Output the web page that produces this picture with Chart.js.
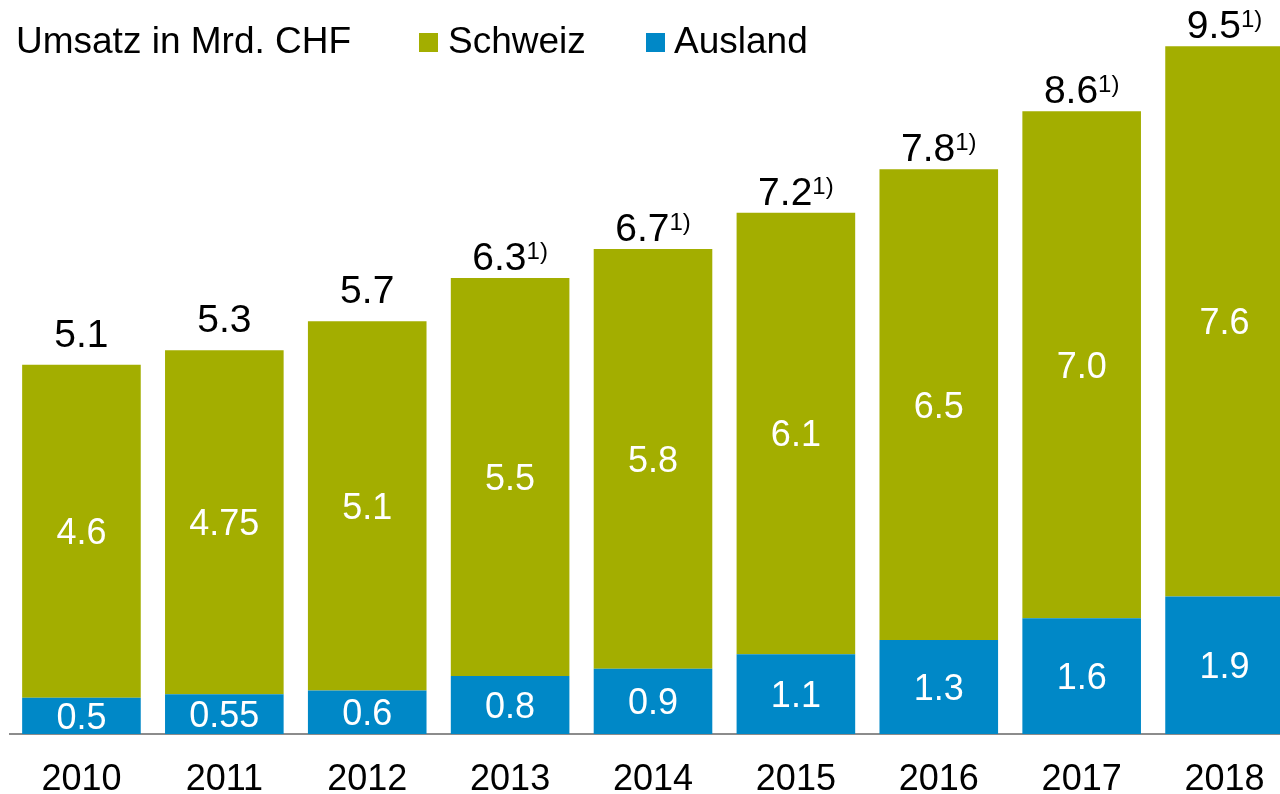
<!DOCTYPE html>
<html>
<head>
<meta charset="utf-8">
<script src="https://cdn.jsdelivr.net/npm/chart.js@4"></script>
<style>
  html, body { margin: 0; padding: 0; background: #fff; overflow: hidden; }
  #wrap { width: 1296px; height: 826px; }
</style>
</head>
<body>
<div id="wrap"><canvas id="umsatz" width="1296" height="826"></canvas></div>
<script>
const years = ['2010', '2011', '2012', '2013', '2014', '2015', '2016', '2017', '2018'];
const ausland = [0.5, 0.55, 0.6, 0.8, 0.9, 1.1, 1.3, 1.6, 1.9];
const schweiz = [4.6, 4.75, 5.1, 5.5, 5.8, 6.1, 6.5, 7.0, 7.6];
const footnotes = ['', '', '', '1)', '1)', '1)', '1)', '1)', '1)'];

const GREEN = '#a3ae00';
const BLUE = '#0088c7';
const FONT = "'Liberation Sans', Arial, sans-serif";

function fmt(v) {
    let s = String(v);
    if (s.indexOf('.') < 0) s += '.0';
    return s;
}

// value labels inside the segments, totals on top, legend line
const labelPlugin = {
    id: 'labels',
    afterDatasetsDraw(chart) {
        const ctx = chart.ctx;
        ctx.save();
        ctx.textAlign = 'center';
        ctx.textBaseline = 'middle';
        ctx.fillStyle = '#fff';
        ctx.font = '36px ' + FONT;
        chart.data.datasets.forEach((ds, di) => {
            chart.getDatasetMeta(di).data.forEach((bar, i) => {
                ctx.fillText(fmt(ds.data[i]), bar.x, (bar.y + bar.base) / 2 + 3);
            });
        });

        // totals
        const top = chart.getDatasetMeta(1).data;
        ctx.fillStyle = '#000';
        ctx.textBaseline = 'alphabetic';
        ctx.textAlign = 'left';
        top.forEach((bar, i) => {
            const total = (ausland[i] + schweiz[i]).toFixed(1);
            const note = footnotes[i];
            ctx.font = '39px ' + FONT;
            const w1 = ctx.measureText(total).width;
            ctx.font = '24px ' + FONT;
            const w2 = note ? ctx.measureText(note).width : 0;
            const x0 = bar.x - (w1 + w2) / 2;
            const yb = bar.y - (note ? 8 : 18);
            ctx.font = '39px ' + FONT;
            ctx.fillText(total, x0, yb);
            if (note) {
                ctx.font = '24px ' + FONT;
                ctx.fillText(note, x0 + w1, yb - 11);
            }
        });

        // title + legend
        ctx.font = '37px ' + FONT;
        ctx.fillText('Umsatz in Mrd. CHF', 16, 53);
        ctx.fillStyle = GREEN;
        ctx.fillRect(419, 33, 19, 19);
        ctx.fillStyle = BLUE;
        ctx.fillRect(646, 33, 19, 19);
        ctx.fillStyle = '#000';
        ctx.fillText('Schweiz', 448, 53);
        ctx.fillText('Ausland', 674, 53);
        ctx.restore();
    }
};

new Chart(document.getElementById('umsatz'), {
    type: 'bar',
    data: {
        labels: years,
        datasets: [
            { label: 'Ausland', data: ausland, backgroundColor: BLUE },
            { label: 'Schweiz', data: schweiz, backgroundColor: GREEN }
        ]
    },
    options: {
        responsive: false,
        animation: false,
        layout: { padding: { left: 10, top: 10, right: 0, bottom: 0 } },
        datasets: { bar: { barPercentage: 0.83, categoryPercentage: 1 } },
        plugins: {
            legend: { display: false },
            tooltip: { enabled: false }
        },
        scales: {
            x: {
                stacked: true,
                grid: { display: false, drawTicks: false },
                border: { display: true, color: '#8c8c8c', width: 2 },
                ticks: {
                    color: '#000',
                    padding: 28,
                    font: { family: FONT, size: 36, lineHeight: 1 }
                }
            },
            y: {
                stacked: true,
                display: false,
                min: 0,
                max: 10
            }
        }
    },
    plugins: [labelPlugin]
});
</script>
</body>
</html>
